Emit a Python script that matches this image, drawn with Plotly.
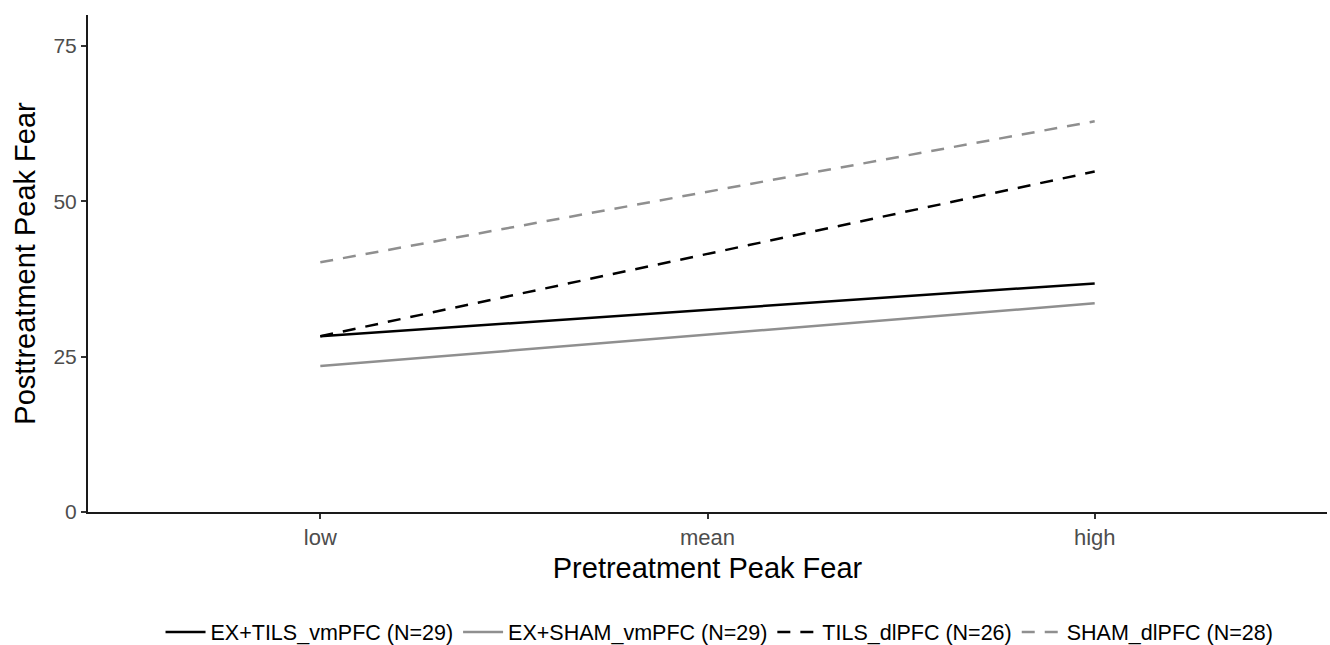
import plotly.graph_objects as go

categories = ["low", "mean", "high"]
x_pos = [1, 2, 3]
tils_vmpfc = [28.3, 32.5, 36.8]
sham_vmpfc = [23.5, 28.5, 33.6]
tils_dlpfc = [28.3, 41.5, 54.8]
sham_dlpfc = [40.2, 51.5, 62.9]
names = ["EX+TILS_vmPFC (N=29)", "EX+SHAM_vmPFC (N=29)", "TILS_dlPFC (N=26)", "SHAM_dlPFC (N=28)"]
y_ticks = [0, 25, 50, 75]

series = [tils_vmpfc, sham_vmpfc, tils_dlpfc, sham_dlpfc]
colors = ["#000000", "#8f8f8f", "#000000", "#8f8f8f"]
dashes = ["solid", "solid", "13px,10px", "13px,10px"]

fig = go.Figure()
for vals, name, c, d in zip(series, names, colors, dashes):
    fig.add_trace(go.Scatter(x=x_pos, y=vals, mode="lines", name=name,
                             line=dict(color=c, width=2.5, dash=d)))

font = "Liberation Sans, Arial, sans-serif"
fig.update_layout(
    width=1330, height=645,
    margin=dict(l=88, r=3, t=15, b=133),
    paper_bgcolor="white", plot_bgcolor="white",
    font=dict(family=font, color="#000000"),
    showlegend=True,
    legend=dict(orientation="h", xref="container", x=0.541, xanchor="center",
                yref="container", y=1 - 632 / 645, yanchor="middle",
                font=dict(size=21.5, color="#000000"), itemwidth=40, tracegroupgap=0),
    xaxis=dict(range=[0.4, 3.6], tickmode="array", tickvals=x_pos, ticktext=categories,
               showgrid=False, zeroline=False, showline=True, linecolor="#1a1a1a", linewidth=2,
               ticks="outside", ticklen=5, tickwidth=1.5, tickcolor="#333333",
               tickfont=dict(size=22, color="#4d4d4d"), automargin=True,
               title=dict(text="Pretreatment Peak Fear", font=dict(size=29, color="#000000"), standoff=8)),
    yaxis=dict(range=[0, 80], tickmode="array", tickvals=y_ticks,
               showgrid=False, zeroline=False, showline=True, linecolor="#1a1a1a", linewidth=2,
               ticks="outside", ticklen=5, tickwidth=1.5, tickcolor="#333333",
               tickfont=dict(size=21, color="#4d4d4d"), automargin=True,
               title=dict(text="Posttreatment Peak Fear", font=dict(size=29, color="#000000"), standoff=9)),
)

fig.write_html("out.html", config={"displayModeBar": False},
               post_script="document.body.style.margin='0';document.body.style.overflow='hidden';")
